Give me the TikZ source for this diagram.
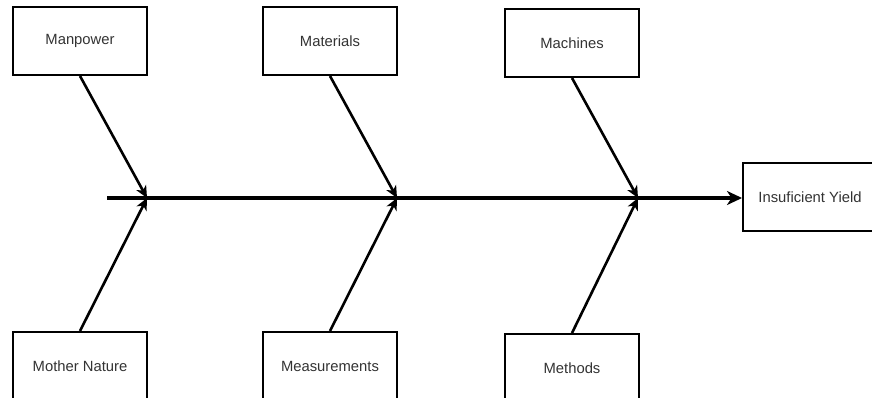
\documentclass[tikz,border=0pt]{standalone}
\usepackage{fontspec}
\setmainfont{Liberation Sans}
\usetikzlibrary{arrows.meta}
\definecolor{labelgray}{HTML}{333333}
\begin{document}
\begin{tikzpicture}[x=1pt,y=-1pt,
  cause/.style={draw=black, line width=2pt, fill=white, minimum width=134pt,
    minimum height=68pt, inner sep=0pt, text=labelgray,
    font=\fontsize{14.8}{17}\selectfont},
  spine/.style={line width=3.6pt, -{Stealth[length=15pt,width=14pt,inset=4.5pt]}},
  bone/.style={line width=2.6pt, -{Stealth[length=12pt,width=11pt,inset=3.5pt]}}]
\useasboundingbox (0,0) rectangle (872,398);

% cause boxes
\node[cause] (manpower) at (80,41) {Manpower};
\node[cause] (materials) at (330,41) {Materials};
\node[cause] (machines) at (572,43) {Machines};
\node[cause] (nature) at (80,366) {Mother Nature};
\node[cause] (measure) at (330,366) {Measurements};
\node[cause] (methods) at (572,368) {Methods};

% effect box
\node[cause] (effect) at (810,197) {Insuficient Yield};

% joints on the spine
\coordinate (tail) at (107,198);
\coordinate (j1) at (147,198);
\coordinate (j2) at (397,198);
\coordinate (j3) at (638,198);

% spine
\draw[spine] (tail) -- (tail -| effect.west);

% bones
\draw[bone] (manpower.south) -- (j1);
\draw[bone] (nature.north) -- (j1);
\draw[bone] (materials.south) -- (j2);
\draw[bone] (measure.north) -- (j2);
\draw[bone] (machines.south) -- (j3);
\draw[bone] (methods.north) -- (j3);
\end{tikzpicture}
\end{document}
